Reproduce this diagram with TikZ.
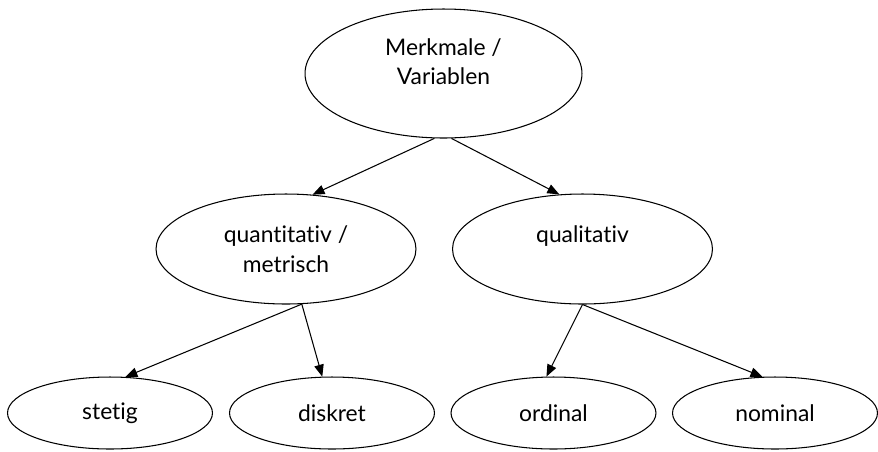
\documentclass[tikz,border=0pt]{standalone}
\usepackage{fontspec}
\setmainfont{Lato}[Ligatures=NoCommon]
\usepackage{tikz}
\usetikzlibrary{arrows.meta,shapes.geometric}

\begin{document}
\begin{tikzpicture}[
  x=0.02cm, y=-0.02cm,
  every node/.style={font=\fontsize{13}{17}\selectfont},
  rootell/.style={draw, ellipse, semithick, align=center, minimum width=5.54cm, minimum height=2.58cm, inner sep=0pt},
  midell/.style={draw, ellipse, semithick, align=center, minimum width=5.2cm, minimum height=2.2cm, inner sep=0pt},
  leafell/.style={draw, ellipse, semithick, align=center, minimum width=4.1cm, minimum height=1.44cm, inner sep=0pt},
  arr/.style={-{Triangle[length=0.24cm,width=0.19cm]}, semithick}
]
\useasboundingbox (0,0) rectangle (878,451);

\node[rootell] (merkmale) at (443.5,73.5) {Merkmale /\\Variablen\\[-0.12cm]\mbox{}};
\node[midell] (quanti) at (286,249) {quantitativ /\\metrisch};
\node[midell] (quali) at (582.5,249) {qualitativ\\\mbox{}};
\node[leafell] (stetig) at (110,413) {stetig};
\node[leafell] (diskret) at (332,413) {diskret};
\node[leafell] (ordinal) at (553.5,413) {ordinal};
\node[leafell] (nominal) at (775,413) {nominal};

\draw[arr] (merkmale.262.5) -- (quanti.64.3);
\draw[arr] (merkmale.277.5) -- (quali.113.6);
\draw[arr] (quanti.286.9) -- (stetig.67.9);
\draw[arr] (quanti.286.9) -- (diskret.105.1);
\draw[arr] (quali.270) -- (ordinal.101.5);
\draw[arr] (quali.270) -- (nominal.109.4);
\end{tikzpicture}
\end{document}
